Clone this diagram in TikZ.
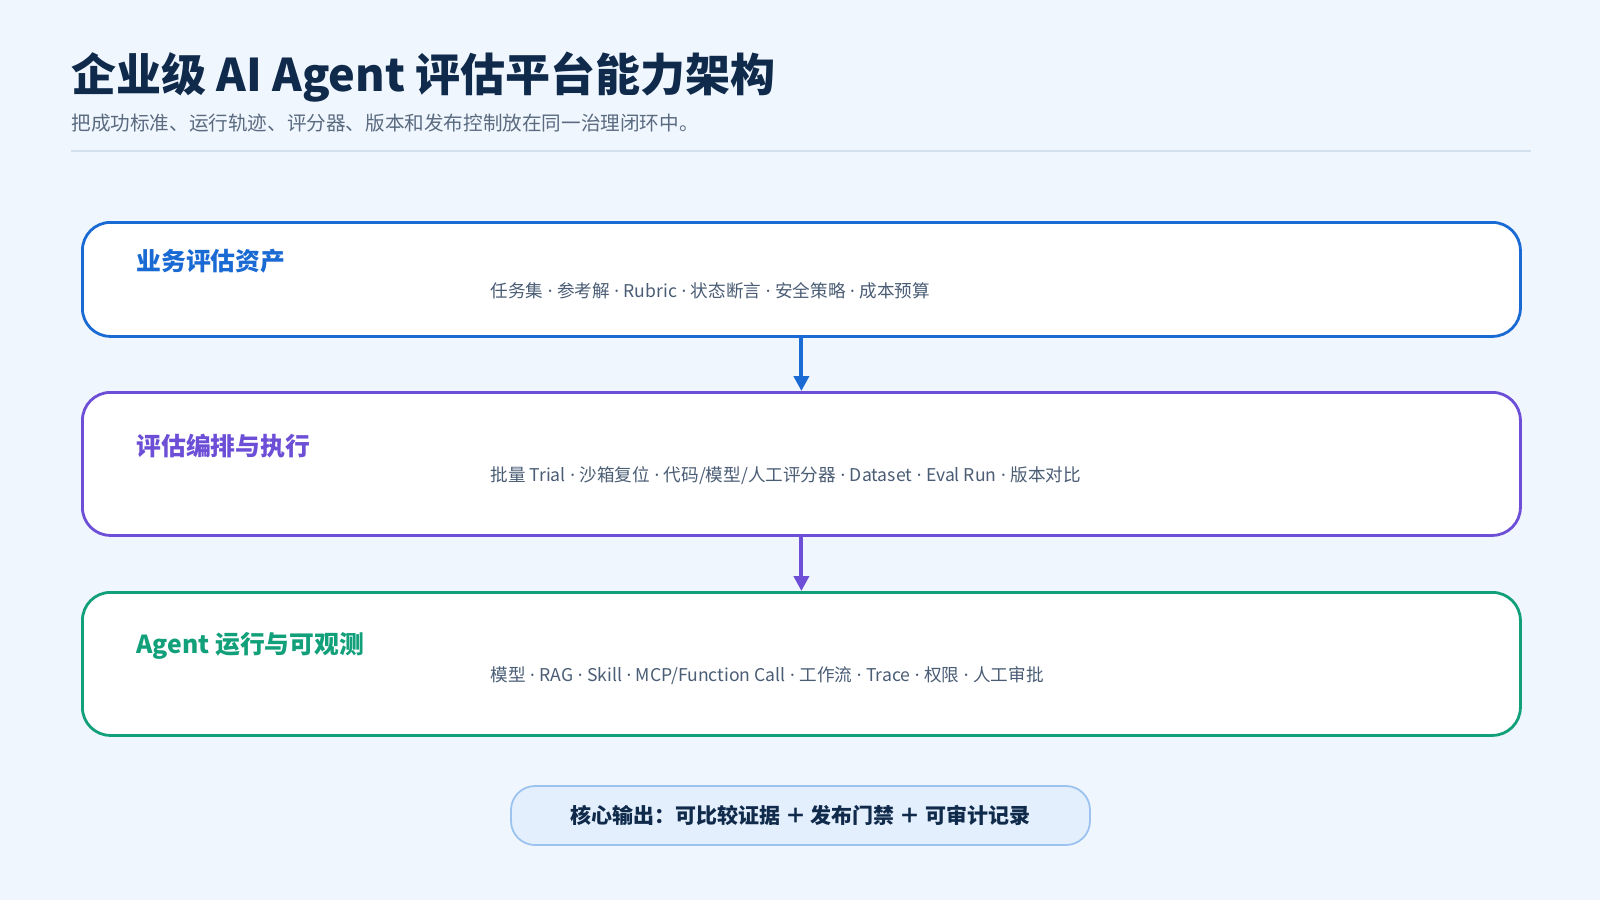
\documentclass[tikz,border=0pt]{standalone}
\usepackage{fontspec}
\setmainfont{Noto Sans CJK SC}
\newfontfamily\latf{Noto Sans}
\newcommand\md{{\latf\ ·\ }}
\usetikzlibrary{arrows.meta}
\definecolor{bg}{HTML}{F0F6FE}
\definecolor{ttl}{HTML}{0F2A4A}
\definecolor{sub}{HTML}{5A6B80}
\definecolor{cblue}{HTML}{1A6AD4}
\definecolor{cpur}{HTML}{6C4FD6}
\definecolor{cgrn}{HTML}{12A07A}
\definecolor{desc}{HTML}{4A5D75}
\definecolor{outf}{HTML}{E3EFFC}
\definecolor{outd}{HTML}{9CC3EF}
\definecolor{rule}{HTML}{D3E0EE}
\begin{document}
\begin{tikzpicture}[x=0.5pt,y=-0.5pt,
  box/.style={draw=#1,line width=1.4pt,fill=white,rounded corners=14pt,inner sep=0},
  btitle/.style={anchor=west,text=#1,font=\fontsize{12.4}{14}\selectfont\bfseries,inner sep=0},
  bdesc/.style={anchor=west,text=desc,font=\fontsize{8.8}{10}\selectfont,inner sep=0},
  conn/.style={draw=#1,line width=2pt,-{Triangle[length=7.5pt,width=7.5pt]}}]
\fill[bg] (0,0) rectangle (1600,900);
\useasboundingbox (0,0) rectangle (1600,900);
\node[anchor=west,inner sep=0,text=ttl,font=\fontsize{22.5}{26}\selectfont\bfseries] (t) at (71,77) {企业级 AI Agent 评估平台能力架构};
\node[anchor=west,inner sep=0,text=sub,font=\fontsize{9.8}{11}\selectfont] (s) at (71,123) {把成功标准、运行轨迹、评分器、版本和发布控制放在同一治理闭环中。};
\draw[rule,line width=0.8pt] (71,151) -- (1531,151);
\node[box=cblue,minimum width=719pt,minimum height=57pt,anchor=north west] (b1) at (81,221) {};
\node[box=cpur,minimum width=719pt,minimum height=71.5pt,anchor=north west] (b2) at (81,391) {};
\node[box=cgrn,minimum width=719pt,minimum height=71.5pt,anchor=north west] (b3) at (81,591) {};
\node[btitle=cblue] (t1) at (136,261) {业务评估资产};
\node[bdesc] (d1) at (490,291) {任务集\md 参考解\md Rubric\md 状态断言\md 安全策略\md 成本预算};
\node[btitle=cpur] (t2) at (136,446) {评估编排与执行};
\node[bdesc] (d2) at (490,476) {批量 Trial\md 沙箱复位\md 代码/模型/人工评分器\md Dataset\md Eval Run\md 版本对比};
\node[btitle=cgrn] (t3) at (136,646) {Agent 运行与可观测};
\node[bdesc] (d3) at (490,676) {模型\md RAG\md Skill\md MCP/Function Call\md 工作流\md Trace\md 权限\md 人工审批};
\draw[conn=cblue] (b1.south) -- (b2.north);
\draw[conn=cpur] (b2.south) -- (b3.north);
\node[draw=outd,fill=outf,line width=0.9pt,rounded corners=12pt,inner sep=0,minimum width=289.5pt,minimum height=29.5pt,text=ttl,font=\fontsize{10.5}{12}\selectfont\bfseries] (o) at (800.5,815.5) {核心输出：可比较证据 ＋ 发布门禁 ＋ 可审计记录};
\end{tikzpicture}
\end{document}
